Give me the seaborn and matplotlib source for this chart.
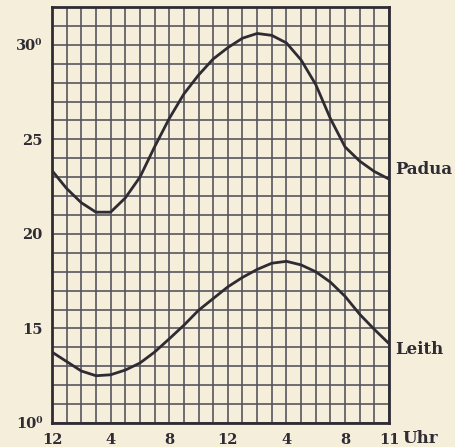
import matplotlib
matplotlib.use("Agg")
import matplotlib.pyplot as plt
import seaborn as sns
import pandas as pd

# --- data ---
hours = list(range(24))
padua = [23.35, 22.4, 21.65, 21.15, 21.15, 21.9, 23.0, 24.6, 26.1, 27.4, 28.4, 29.25,
         29.85, 30.35, 30.6, 30.5, 30.1, 29.2, 27.9, 26.1, 24.6, 23.85, 23.3, 22.9]
leith = [13.75, 13.25, 12.75, 12.5, 12.55, 12.8, 13.17, 13.75, 14.45, 15.17, 15.96, 16.58,
         17.2, 17.7, 18.12, 18.45, 18.55, 18.36, 18.0, 17.45, 16.7, 15.75, 14.95, 14.2]
series_names = ["Padua", "Leith"]
x_tick_pos = [0, 4, 8, 12, 16, 20, 23]
x_tick_labels = ["12", "4", "8", "12", "4", "8", "11"]
y_tick_pos = [10, 15, 20, 25, 30]
y_tick_labels = ["10\u2070", "15", "20", "25", "30\u2070"]
x_unit = "Uhr"

bg = "#f4eedb"
ink = "#2f2b33"
grid_c = "#55525c"

sns.set_theme(style="white")
plt.rcParams['font.family'] = ['DejaVu Serif']

fig = plt.figure(figsize=(4.55, 4.47), dpi=100)
fig.patch.set_facecolor(bg)
ax = fig.add_axes([52 / 455, 1 - 423 / 447, 337 / 455, 416 / 447])
ax.set_facecolor(bg)

df = pd.DataFrame({
    "Uhr": hours * 2,
    "Temp": padua + leith,
    "Ort": [series_names[0]] * len(hours) + [series_names[1]] * len(hours),
})
sns.lineplot(data=df, x="Uhr", y="Temp", units="Ort", estimator=None,
             color=ink, linewidth=2.0, ax=ax, zorder=3)
for ln in ax.get_lines():
    ln.set_solid_joinstyle("round")
    ln.set_solid_capstyle("round")

ax.set_xlim(0, 23)
ax.set_ylim(10, 32)
ax.set_xticks(x_tick_pos)
ax.set_xticklabels(x_tick_labels)
ax.set_yticks(y_tick_pos)
ax.set_yticklabels(y_tick_labels)
ax.set_xticks(hours, minor=True)
ax.set_yticks(range(10, 33), minor=True)
ax.grid(True, which="both", color=grid_c, linewidth=1.3, alpha=0.9)
ax.set_axisbelow(True)
ax.tick_params(which="both", length=0)
ax.tick_params(axis="x", pad=7, labelsize=10.5, labelcolor=ink)
ax.tick_params(axis="y", pad=7, labelsize=10.5, labelcolor=ink)
for lab in ax.get_xticklabels() + ax.get_yticklabels():
    lab.set_fontweight("bold")
ax.set_xlabel("")
ax.set_ylabel("")
for sp in ax.spines.values():
    sp.set_color(ink)
    sp.set_linewidth(2.0)
    sp.set_visible(True)

ax.text(23.4, padua[-1] + 0.5, series_names[0], fontsize=12, fontweight="bold",
        color=ink, va="center", ha="left", clip_on=False)
ax.text(23.4, leith[-1] - 0.3, series_names[1], fontsize=12, fontweight="bold",
        color=ink, va="center", ha="left", clip_on=False)
ax.text(23.9, 9.2, x_unit, fontsize=12, fontweight="bold",
        color=ink, va="center", ha="left", clip_on=False)

fig.savefig("out.png", dpi=100, facecolor=bg)
